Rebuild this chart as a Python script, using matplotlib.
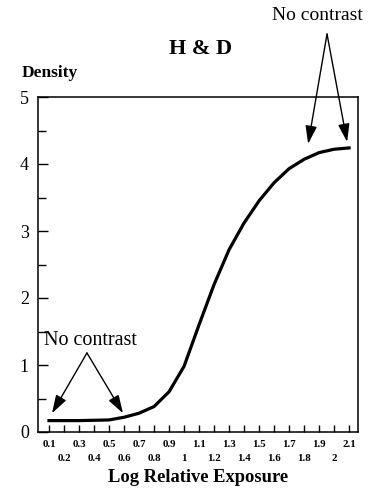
import numpy as np
import matplotlib.pyplot as plt
from matplotlib.ticker import MultipleLocator

# H & D curve (characteristic curve of film)
log_exposure = [0.1, 0.2, 0.3, 0.4, 0.5, 0.6, 0.7, 0.8, 0.9, 1.0, 1.1,
                1.2, 1.3, 1.4, 1.5, 1.6, 1.7, 1.8, 1.9, 2.0, 2.1]
density = [0.17, 0.17, 0.17, 0.175, 0.18, 0.22, 0.28, 0.38, 0.60, 0.98, 1.60,
           2.20, 2.72, 3.12, 3.45, 3.72, 3.93, 4.07, 4.17, 4.22, 4.24]

upper_ticks = [0.1, 0.3, 0.5, 0.7, 0.9, 1.1, 1.3, 1.5, 1.7, 1.9, 2.1]
upper_labels = ['0.1', '0.3', '0.5', '0.7', '0.9', '1.1', '1.3', '1.5', '1.7', '1.9', '2.1']
lower_ticks = [0.2, 0.4, 0.6, 0.8, 1.0, 1.2, 1.4, 1.6, 1.8, 2.0]
lower_labels = ['0.2', '0.4', '0.6', '0.8', '1', '1.2', '1.4', '1.6', '1.8', '2']

plt.rcParams['font.family'] = ['Liberation Serif', 'DejaVu Serif']

fig = plt.figure(figsize=(3.73, 5.0), dpi=100)
ax = fig.add_axes([0.102, 0.136, 0.858, 0.670])

ax.plot(log_exposure, density, color='black', linewidth=2.3, solid_joinstyle='round')

ax.set_xlim(0.027, 2.16)
ax.set_ylim(0, 5)

ax.set_xticks(upper_ticks)
ax.set_xticklabels(upper_labels, fontsize=7.8, fontweight='bold')
ax.set_xticks(lower_ticks, minor=True)
ax.set_xticklabels(lower_labels, minor=True, fontsize=7.8, fontweight='bold')
ax.tick_params(axis='x', which='major', direction='in', length=5, width=1, pad=6)
ax.tick_params(axis='x', which='minor', direction='in', length=5, width=1, pad=16)

ax.yaxis.set_major_locator(MultipleLocator(1))
ax.yaxis.set_minor_locator(MultipleLocator(0.5))
ax.tick_params(axis='y', which='major', direction='in', length=7, width=1, labelsize=13, pad=6.5)
ax.tick_params(axis='y', which='minor', direction='in', length=6, width=1)

for s in ax.spines.values():
    s.set_linewidth(1.1)

ax.set_xlabel('Log Relative Exposure', fontsize=13.3, fontweight='bold', labelpad=4)

fig.text(0.539, 0.902, 'H & D', fontsize=16, fontweight='bold', ha='center', va='center')
fig.text(0.058, 0.854, 'Density', fontsize=12.5, fontweight='bold', ha='left', va='center')

arrow = dict(arrowstyle='-|>,head_length=1.1,head_width=0.35', color='black',
             linewidth=1.0, shrinkA=0, shrinkB=0)

# upper annotation
fig.text(0.850, 0.97, 'No contrast', fontsize=14, ha='center', va='center')
for tip in [(1.827, 4.30), (2.087, 4.33)]:
    ax.annotate('', xy=tip, xytext=(1.953, 5.94), arrowprops=arrow, annotation_clip=False)

# lower annotation
ax.text(0.065, 1.36, 'No contrast', fontsize=14.5, ha='left', va='center')
for tip in [(0.12, 0.28), (0.593, 0.28)]:
    ax.annotate('', xy=tip, xytext=(0.353, 1.18), arrowprops=arrow)

fig.savefig('out.png', dpi=100)
